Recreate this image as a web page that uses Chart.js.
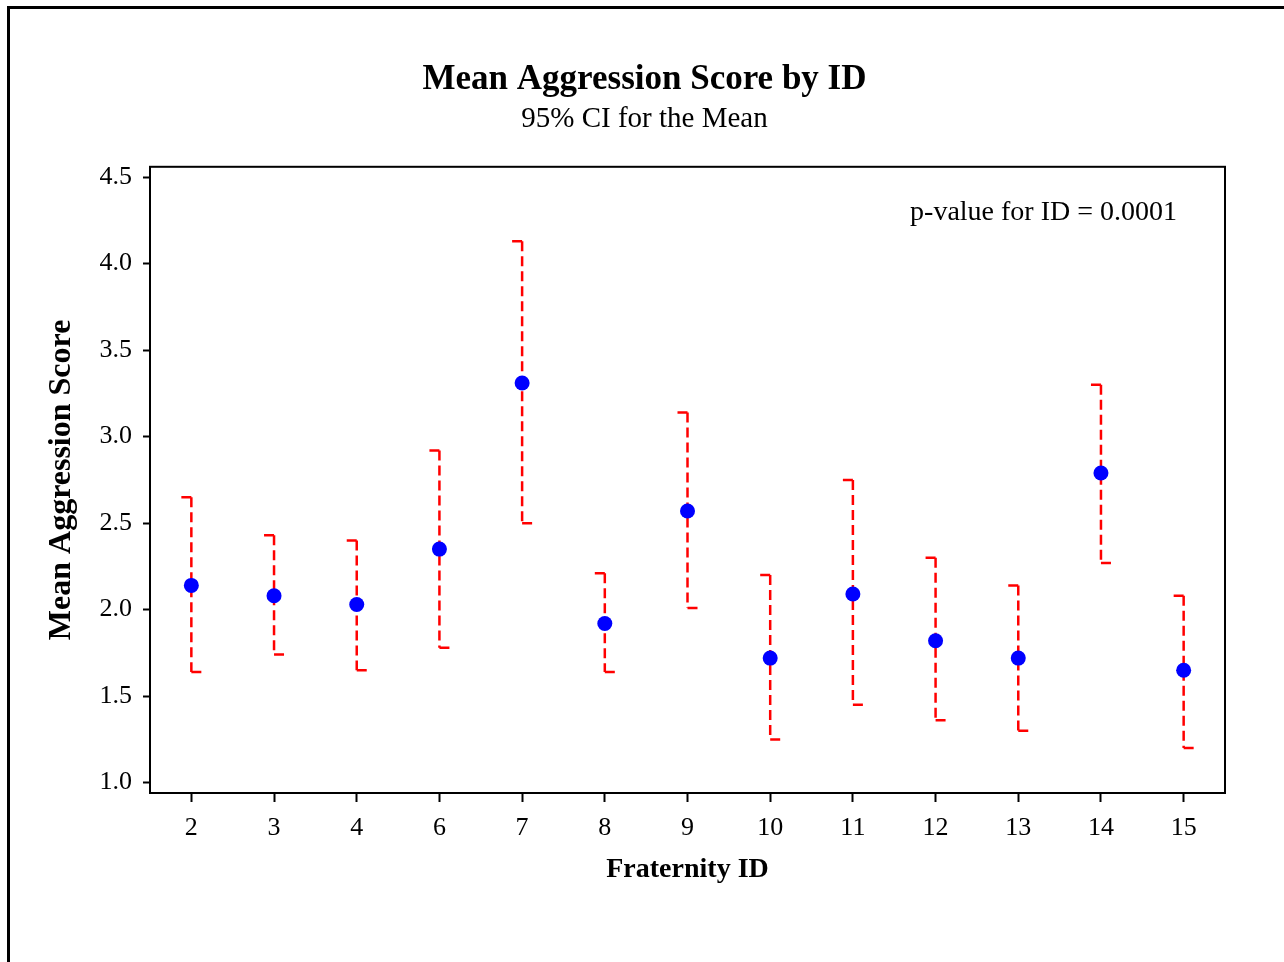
<!DOCTYPE html>
<html>
<head>
<meta charset="utf-8">
<title>Mean Aggression Score by ID</title>
<script src="https://cdn.jsdelivr.net/npm/chart.js@4.4.1/dist/chart.umd.min.js"></script>
<style>
  html, body { margin: 0; padding: 0; background: #fff; overflow: hidden; }
  #frame { position: absolute; left: 7px; top: 6px; width: 1290px; height: 970px;
           border-left: 3px solid #000; border-top: 3px solid #000; }
  #wrap { position: absolute; left: 0; top: 0; width: 1284px; height: 962px; }
</style>
</head>
<body>
<div id="frame"></div>
<div id="wrap"><canvas id="chart" width="1284" height="962"></canvas></div>
<script>
// fraternity ids on the x axis
const ids = ["2", "3", "4", "6", "7", "8", "9", "10", "11", "12", "13", "14", "15"];

// mean score and 95% CI bounds
const means = [2.14, 2.08, 2.03, 2.35, 3.31, 1.92, 2.57, 1.72, 2.09, 1.82, 1.72, 2.79, 1.65];
const lower = [1.64, 1.74, 1.65, 1.78, 2.50, 1.64, 2.01, 1.25, 1.45, 1.36, 1.30, 2.27, 1.20];
const upper = [2.65, 2.43, 2.40, 2.92, 4.13, 2.21, 3.14, 2.20, 2.75, 2.30, 2.14, 3.30, 2.08];

const yTicks = [1.0, 1.5, 2.0, 2.5, 3.0, 3.5, 4.0, 4.5];
const pValueNote = "p-value for ID = 0.0001";

const SERIF = "'Liberation Serif', 'Times New Roman', serif";

// dashed red interval lines with the little Minitab style caps
const ciBars = {
  id: "ciBars",
  beforeDatasetsDraw(chart) {
    const { ctx, scales: { x, y } } = chart;
    ctx.save();
    ctx.strokeStyle = "#ff0000";
    ctx.lineWidth = 2.5;
    ids.forEach((id, i) => {
      const px = x.getPixelForValue(i);
      const top = y.getPixelForValue(upper[i]);
      const bot = y.getPixelForValue(lower[i]);
      ctx.setLineDash([10, 5]);
      ctx.beginPath();
      ctx.moveTo(px, top);
      ctx.lineTo(px, bot);
      ctx.stroke();
      ctx.setLineDash([]);
      ctx.beginPath();
      ctx.moveTo(px - 10, top);
      ctx.lineTo(px, top);
      ctx.moveTo(px, bot);
      ctx.lineTo(px + 10, bot);
      ctx.stroke();
    });
    ctx.restore();
  }
};

// box around the plot area + p-value note
const plotBox = {
  id: "plotBox",
  afterDraw(chart) {
    const { ctx, chartArea: a } = chart;
    ctx.save();
    ctx.strokeStyle = "#000";
    ctx.lineWidth = 2;
    ctx.strokeRect(a.left, a.top, a.right - a.left, a.bottom - a.top);
    ctx.fillStyle = "#000";
    ctx.font = "28px " + SERIF;
    ctx.textAlign = "right";
    ctx.textBaseline = "middle";
    ctx.fillText(pValueNote, a.right - 48, a.top + 46);
    ctx.restore();
  }
};

new Chart(document.getElementById("chart"), {
  type: "line",
  data: {
    labels: ids,
    datasets: [{
      label: "Mean",
      data: means,
      showLine: false,
      pointRadius: 7.5,
      pointHoverRadius: 7.5,
      pointBackgroundColor: "#0000ff",
      pointBorderWidth: 0
    }]
  },
  options: {
    responsive: false,
    animation: false,
    layout: { padding: { left: 32, right: 27, top: 0, bottom: 0 } },
    plugins: {
      legend: { display: false },
      tooltip: { enabled: false },
      title: {
        display: true,
        text: "Mean Aggression Score by ID",
        color: "#000",
        font: { family: SERIF, size: 35, weight: "bold" },
        padding: { top: 59, bottom: 0 }
      },
      subtitle: {
        display: true,
        text: "95% CI for the Mean",
        color: "#000",
        font: { family: SERIF, size: 29 },
        padding: { top: 1, bottom: 30 }
      }
    },
    scales: {
      x: {
        type: "category",
        offset: true,
        grid: { offset: false, drawOnChartArea: false, tickLength: 9, tickWidth: 2, color: "#000" },
        border: { color: "#000", width: 2 },
        ticks: { color: "#000", font: { family: SERIF, size: 26 }, padding: 11, maxRotation: 0, autoSkip: false },
        title: {
          display: true,
          text: "Fraternity ID",
          color: "#000",
          font: { family: SERIF, size: 28, weight: "bold" },
          padding: { top: 0, bottom: 75 }
        },
        afterFit: s => { s.height = 169; }
      },
      y: {
        type: "linear",
        min: 0.94,
        max: 4.56,
        afterBuildTicks: s => { s.ticks = yTicks.map(v => ({ value: v })); },
        grid: { drawOnChartArea: false, tickLength: 7, tickWidth: 2, color: "#000" },
        border: { color: "#000", width: 2 },
        ticks: { color: "#000", font: { family: SERIF, size: 26 }, padding: 11, callback: v => v.toFixed(1) },
        title: {
          display: true,
          text: "Mean Aggression Score",
          color: "#000",
          font: { family: SERIF, size: 32, weight: "bold" },
          padding: { top: 11, bottom: 0 }
        },
        afterFit: s => { s.width = 118; }
      },
      // empty right-hand scale, only there to keep the gap right of the plot
      y2: {
        type: "linear",
        position: "right",
        grid: { display: false },
        ticks: { display: false },
        border: { display: false },
        afterFit: s => { s.width = 32; }
      }
    }
  },
  plugins: [ciBars, plotBox]
});
</script>
</body>
</html>
